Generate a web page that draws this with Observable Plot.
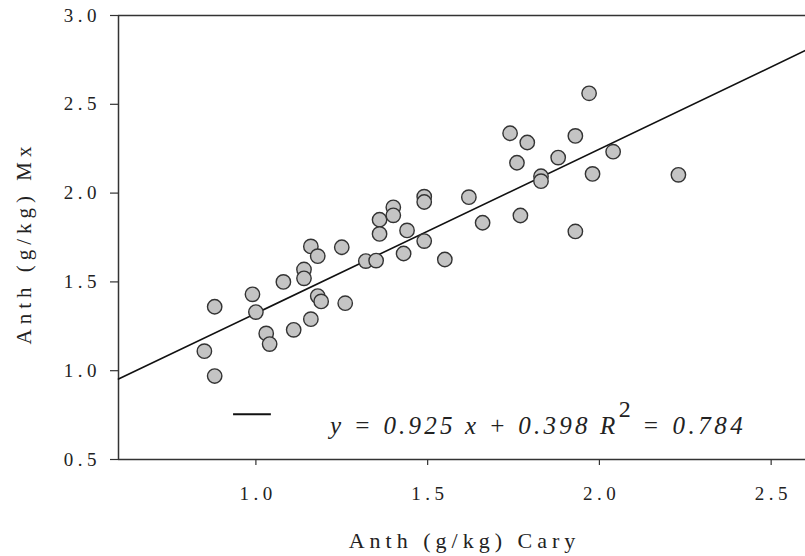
<!DOCTYPE html>
<html>
<head>
<meta charset="utf-8">
<script src="https://cdn.jsdelivr.net/npm/d3@7"></script>
<script src="https://cdn.jsdelivr.net/npm/@observablehq/plot@0.6"></script>
<style>
  html, body { margin: 0; padding: 0; background: #fff; }
  #chart { width: 805px; height: 556px; }
</style>
</head>
<body>
<div id="chart"></div>
<script>
// ---- data ----
const cary = [0.85, 0.88, 0.88, 0.99, 1.00, 1.03, 1.04, 1.08, 1.11, 1.14, 1.14, 1.16, 1.16, 1.18, 1.18, 1.19, 1.25, 1.26,
              1.32, 1.35, 1.36, 1.36, 1.40, 1.40, 1.44, 1.43, 1.49, 1.49, 1.49, 1.55, 1.62, 1.66,
              1.74, 1.76, 1.77, 1.79, 1.83, 1.83, 1.88, 1.93, 1.97, 1.98, 1.93, 2.04, 2.23];
const mx   = [1.11, 1.36, 0.97, 1.43, 1.33, 1.21, 1.15, 1.50, 1.23, 1.57, 1.52, 1.70, 1.29, 1.645, 1.42, 1.39, 1.695, 1.38,
              1.617, 1.62, 1.85, 1.77, 1.92, 1.875, 1.79, 1.66, 1.98, 1.95, 1.73, 1.626, 1.977, 1.833,
              2.337, 2.171, 1.874, 2.285, 2.095, 2.067, 2.20, 2.322, 2.562, 2.108, 1.784, 2.233, 2.103];
const xDomain = [0.6, 2.6];
const yDomain = [0.5, 3.0];
const xTicks = [1.0, 1.5, 2.0, 2.5];
const yTicks = [0.5, 1.0, 1.5, 2.0, 2.5, 3.0];
const slope = 0.925;
const intercept = 0.398;
const xLabel = "Anth (g/kg) Cary";
const yLabel = "Anth (g/kg) Mx";
const eqMain = "y = 0.925 x + 0.398 R";
const eqSup = "2";
const eqTail = "= 0.784";

// ---- derived tables ----
const points = cary.map((c, i) => ({cary: c, mx: mx[i]}));
const fit = xDomain.map(x => ({x, y: slope * x + intercept}));
const fmt = d3.format(".1f");
const serif = "Liberation Serif";

const chart = Plot.plot({
  width: 805,
  height: 556,
  marginTop: 15,
  marginBottom: 97,
  marginLeft: 118,
  marginRight: 0,
  style: {fontSize: "19px", fontFamily: serif, color: "#222", background: "#fff", overflow: "visible"},
  x: {domain: xDomain, label: null},
  y: {domain: yDomain, label: null},
  marks: [
    Plot.ruleX([xDomain[0]], {stroke: "#333", strokeWidth: 1.5}),
    Plot.ruleY([yDomain[0]], {stroke: "#333", strokeWidth: 1.5}),
    Plot.ruleY([yDomain[1]], {stroke: "#333", strokeWidth: 1.5}),
    Plot.axisX({ticks: xTicks, tickFormat: fmt, tickSize: 6, tickPadding: 21, stroke: "#333", strokeWidth: 1.2, label: null}),
    Plot.axisY({ticks: yTicks, tickFormat: fmt, tickSize: 8, tickPadding: 14, stroke: "#333", strokeWidth: 1.2, label: null}),
    Plot.line(fit, {x: "x", y: "y", stroke: "#111", strokeWidth: 1.6}),
    Plot.dot(points, {x: "cary", y: "mx", r: 7.2, fill: "#c4c4c4", stroke: "#333", strokeWidth: 1.4}),
    Plot.ruleY([0.755], {x1: 0.935, x2: 1.045, stroke: "#111", strokeWidth: 2}),
    Plot.text([eqMain], {x: 1.216, y: 0.646, text: d => d, textAnchor: "start", lineAnchor: "bottom", fontSize: 25, fontStyle: "italic", fill: "#222"}),
    Plot.text([eqSup], {x: 2.056, y: 0.738, text: d => d, textAnchor: "start", lineAnchor: "bottom", fontSize: 24, fill: "#222"}),
    Plot.text([eqTail], {x: 2.125, y: 0.646, text: d => d, textAnchor: "start", lineAnchor: "bottom", fontSize: 25, fontStyle: "italic", fill: "#222"}),
    Plot.text([xLabel], {frameAnchor: "bottom", dy: 88, dx: 0, text: d => d, textAnchor: "middle", lineAnchor: "bottom", fontSize: 22, fill: "#222"}),
    Plot.text([yLabel], {frameAnchor: "left", dx: -94, dy: 8, text: d => d, rotate: -90, textAnchor: "middle", lineAnchor: "middle", fontSize: 21, fill: "#222"})
  ]
});
// spread glyphs with per-character dx offsets (keeps each label one text element)
const spacing = new Map([[eqMain, 3.2], [eqSup, 0], [eqTail, 3.5], [xLabel, 5], [yLabel, 5]]);
d3.select(chart).selectAll("text").each(function() {
  const t = this.textContent;
  const s = spacing.has(t) ? spacing.get(t) : 4.5;
  if (s > 0 && t.length > 1) {
    this.setAttribute("dx", Array.from(t, (c, i) => (i === 0 ? 0 : s)).join(" "));
  }
});
document.getElementById("chart").appendChild(chart);
</script>
</body>
</html>
